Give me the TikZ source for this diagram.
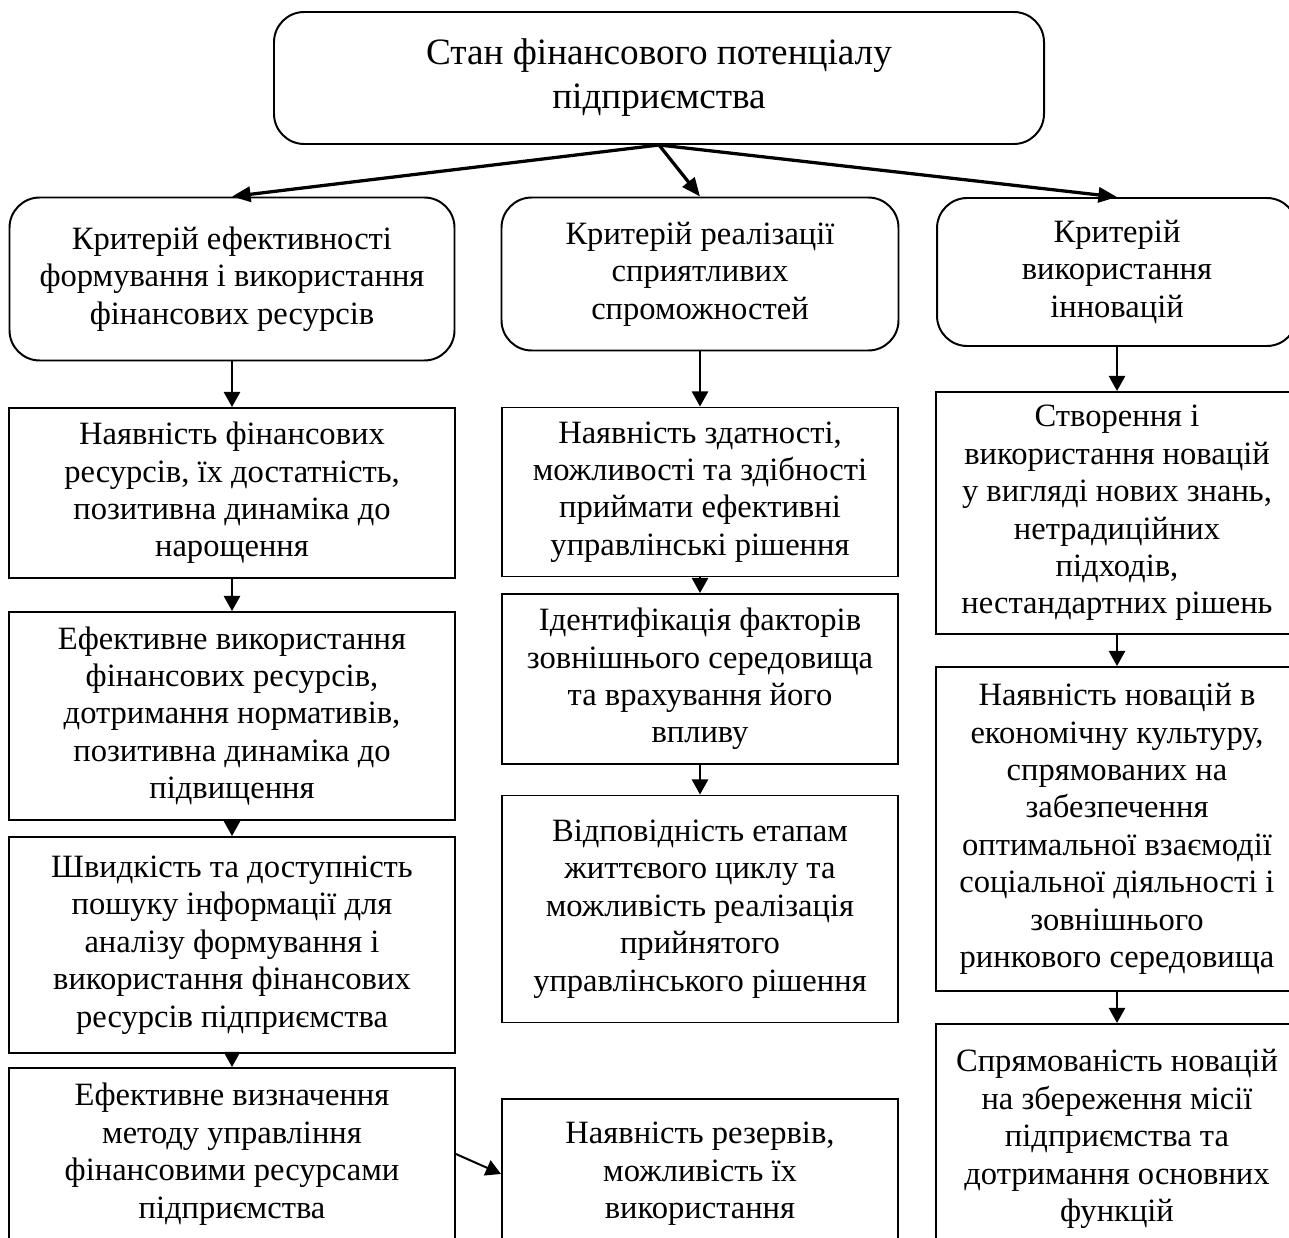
\documentclass[tikz,border=0pt]{standalone}
\usepackage{fontspec}
\setmainfont{Liberation Serif}
\usetikzlibrary{arrows.meta}

\def\px{0.43pt}

\begin{document}
\begin{tikzpicture}[x=\px, y=-\px,
  crit/.style={draw, rounded corners=13pt, line width=0.85pt, align=center,
    font=\fontsize{14}{16.1}\selectfont, inner sep=0pt},
  fact/.style={draw, line width=0.85pt, align=center,
    font=\fontsize{14}{16.1}\selectfont, inner sep=0pt},
  boxdim/.style 2 args={minimum width=#1*\px, minimum height=#2*\px},
  conn/.style={-{Triangle[length=6.5pt,width=7pt]}, line width=0.85pt},
  fan/.style={-{Triangle[length=8pt,width=6.5pt]}, line width=1.4pt},
]

\clip (0,0) rectangle (1289,1238);

% === top ===
\node[crit, font=\fontsize{16}{18.9}\selectfont, boxdim={770}{132}] (state) at (659,78)
  {Стан фінансового потенціалу\\підприємства};

% === criteria ===
\node[crit, boxdim={445}{163}] (critL) at (232,279)
  {Критерій ефективності\\формування і використання\\фінансових ресурсів};
\node[crit, boxdim={397}{153}] (critM) at (700,274)
  {Критерій реалізації\\сприятливих\\спроможностей};
\node[crit, boxdim={360}{148}] (critR) at (1117,272)
  {Критерій\\використання\\інновацій};

% === left column ===
\node[fact, boxdim={446}{170}] (fL1) at (232,493)
  {Наявність фінансових\\ресурсів, їх достатність,\\позитивна динаміка до\\нарощення};
\node[fact, boxdim={446}{208}] (fL2) at (232,716)
  {Ефективне використання\\фінансових ресурсів,\\дотримання нормативів,\\позитивна динаміка до\\підвищення};
\node[fact, boxdim={446}{216}] (fL3) at (232,945)
  {Швидкість та доступність\\пошуку інформації для\\аналізу формування і\\використання фінансових\\ресурсів підприємства};
\node[fact, boxdim={446}{172}] (fL4) at (232,1154)
  {Ефективне визначення\\методу управління\\фінансовими ресурсами\\підприємства};

% === middle column ===
\node[fact, boxdim={396}{169}] (fM1) at (700,492)
  {Наявність здатності,\\можливості та здібності\\приймати ефективні\\управлінські рішення};
\node[fact, boxdim={396}{170}] (fM2) at (700,679)
  {Ідентифікація факторів\\зовнішнього середовища\\та врахування його\\впливу};
\node[fact, boxdim={396}{227}] (fM3) at (700,909)
  {Відповідність етапам\\життєвого циклу та\\можливість реалізація\\прийнятого\\управлінського рішення};
\node[fact, boxdim={396}{150}, anchor=north] (fM4) at (700,1098)
  {Наявність резервів,\\можливість їх\\використання};

% === right column ===
\node[fact, boxdim={362}{242}] (fR1) at (1117,513)
  {Створення і\\використання новацій\\у вигляді нових знань,\\нетрадиційних\\підходів,\\нестандартних рішень};
\node[fact, boxdim={362}{324}] (fR2) at (1117,829)
  {Наявність новацій в\\економічну культуру,\\спрямованих на\\забезпечення\\оптимальної взаємодії\\соціальної діяльності і\\зовнішнього\\ринкового середовища};
\node[fact, boxdim={362}{230}, anchor=north] (fR3) at (1117,1023)
  {Спрямованість новацій\\на збереження місії\\підприємства та\\дотримання основних\\функцій};

% === connectors ===
\foreach \c in {critL,critM,critR}
  \draw[fan] (state.south) -- (\c.north);

\foreach \a/\b in {critL/fL1, fL1/fL2, fL2/fL3, fL3/fL4,
                   critM/fM1, fM1/fM2, fM2/fM3,
                   critR/fR1, fR1/fR2, fR2/fR3}
  \draw[conn] (\a.south) -- (\b.north);

\draw[conn] (fL4.east) -- (fM4.west);

\end{tikzpicture}
\end{document}
